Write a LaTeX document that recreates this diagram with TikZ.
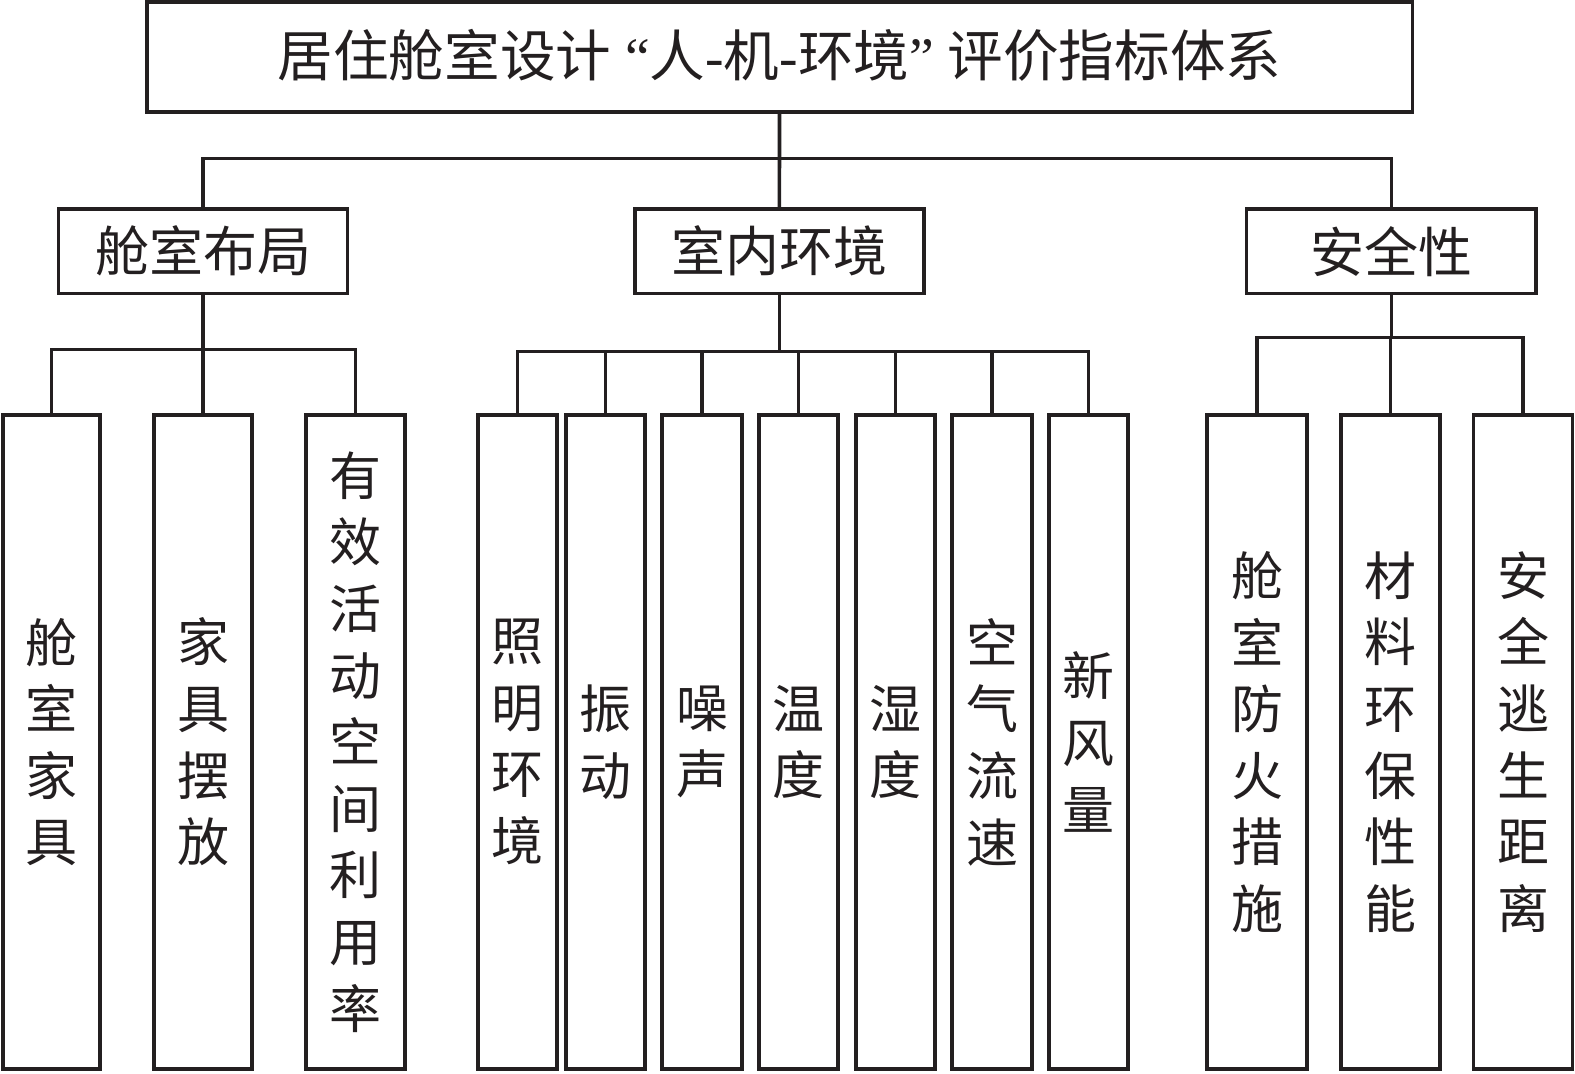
\documentclass[tikz,border=0pt]{standalone}
\usepackage{fontspec}
\setmainfont{Noto Sans CJK SC}
\newfontfamily\latin{Liberation Serif}
\definecolor{ink}{RGB}{35,31,32}
\tikzset{
  box/.style={draw=ink, text=ink, line width=1.8pt, inner sep=0pt, outer sep=0pt,
    font=\fontsize{26}{33.3}\selectfont},
  leaf/.style={box, align=center, minimum height=327pt},
  midbox/.style={box, minimum width=144.65pt, minimum height=42.15pt, font=\fontsize{27}{33}\selectfont},
  link/.style={draw=ink, line width=1.8pt}
}
\begin{document}
\begin{tikzpicture}[x=0.5pt,y=-0.5pt]
\useasboundingbox (0,0) rectangle (1575,1074);
% title
\node[box, minimum width=632.8pt, minimum height=55pt, font=\fontsize{27.8}{33}\selectfont] (t) at (779.5,57)
  {\raisebox{4pt}{居住舱室设计{\latin\ “}人{\latin -}机{\latin -}环境{\latin ”\ }评价指标体系}};
% level 2
\node[midbox] (g1) at (203,251.2) {舱室布局};
\node[midbox] (g2) at (779.4,251.2) {室内环境};
\node[midbox] (g3) at (1391.3,251.2) {安全性};
% leaves group 1
\node[leaf, minimum width=48.5pt] (l1) at (51.5,742) {舱\\室\\家\\具};
\node[leaf, minimum width=49pt] (l2) at (203,742) {家\\具\\摆\\放};
\node[leaf, minimum width=49.5pt] (l3) at (355.5,742) {有\\效\\活\\动\\空\\间\\利\\用\\率};
% leaves group 2
\node[leaf, minimum width=39.5pt] (l4) at (517.5,742) {照\\明\\环\\境};
\node[leaf, minimum width=39.5pt] (l5) at (605.5,742) {振\\动};
\node[leaf, minimum width=40pt] (l6) at (702,742) {噪\\声};
\node[leaf, minimum width=39.5pt] (l7) at (798.5,742) {温\\度};
\node[leaf, minimum width=39.5pt] (l8) at (895.5,742) {湿\\度};
\node[leaf, minimum width=40pt] (l9) at (992,742) {空\\气\\流\\速};
\node[leaf, minimum width=39.5pt] (l10) at (1088.5,742) {新\\风\\量};
% leaves group 3
\node[leaf, minimum width=50pt] (l11) at (1257,742) {舱\\室\\防\\火\\措\\施};
\node[leaf, minimum width=49.5pt] (l12) at (1390.5,742) {材\\料\\环\\保\\性\\能};
\node[leaf, minimum width=49.5pt] (l13) at (1523,742) {安\\全\\逃\\生\\距\\离};
% connectors
\draw[link] (t.south) -- ++(0,46.7) -| (g1.north);
\draw[link] (t.south) -- ++(0,46.7) -| (g3.north);
\draw[link] (t.south) -- (g2.north);
\foreach \l in {l1,l2,l3} \draw[link] (g1.south) -- ++(0,56.3) -| (\l.north);
\foreach \l in {l4,l5,l6,l7,l8,l9,l10} \draw[link] (g2.south) -- ++(0,58.3) -| (\l.north);
\foreach \l in {l11,l12,l13} \draw[link] (g3.south) -- ++(0,44.2) -| (\l.north);
\end{tikzpicture}
\end{document}
